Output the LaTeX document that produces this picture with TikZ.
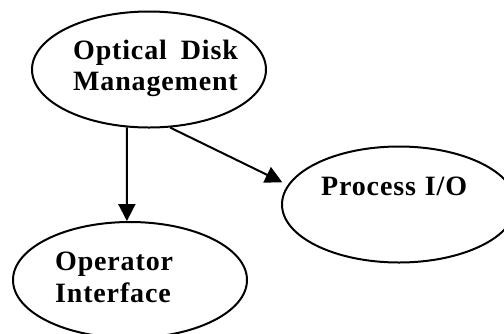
\documentclass[tikz,border=0pt]{standalone}
\usepackage{fontspec}
\setmainfont{Liberation Serif}[LetterSpace=3]
\usetikzlibrary{shapes.geometric,arrows.meta}

\tikzset{
  procnode/.style={draw, ellipse, line width=2pt, inner sep=0pt,
    minimum width=234pt, minimum height=116pt},
  lbl/.style={anchor=base west, inner sep=0pt,
    font=\fontsize{28}{31.5}\selectfont\bfseries},
  flow/.style={line width=2pt, -{Triangle[length=17pt,width=17pt]}}
}

\begin{document}
\begin{tikzpicture}[x=1pt,y=-1pt]
  \useasboundingbox (0,0) rectangle (504,333);
  \clip (0,0) rectangle (504,333);

  % process bubbles
  \node[procnode] (odm) at (149,69.5) {};
  \node[procnode] (opi) at (130,280) {};
  \node[procnode] (pio) at (399,204.5) {};

  % bubble captions
  \node[lbl] (odmtext) at (73,59.3) {\vtop{\hbox{Optical\hspace{14pt}Disk}\hbox{Management}}};
  \node[lbl] (opitext) at (55,270.7) {\vtop{\hbox{Operator}\hbox{Interface}}};
  \node[lbl] (piotext) at (321,195) {Process\hspace{9pt}I/O};

  % data flows
  \draw[flow] (odm.249) -- (opi.93);
  \draw[flow, shorten >=6pt] (odm.290) -- (pio.170);
\end{tikzpicture}
\end{document}
